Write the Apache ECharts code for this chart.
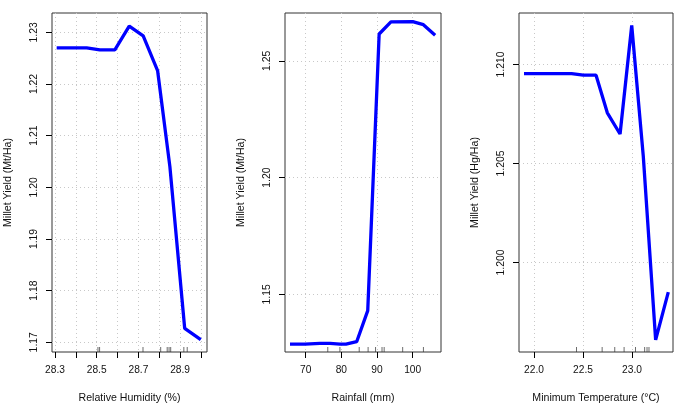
<!DOCTYPE html>
<html>
<head>
<meta charset="utf-8">
<script src="https://cdn.jsdelivr.net/npm/echarts@6/dist/echarts.min.js"></script>
<style>html,body{margin:0;padding:0;background:#fff}#c{width:689px;height:412px}</style>
</head>
<body>
<div id="c"></div>
<script>
// Panel 1: Relative Humidity
var rhX = [28.308, 28.452, 28.515, 28.587, 28.656, 28.723, 28.792, 28.851, 28.922, 28.999];
var rhY = [1.2270, 1.2270, 1.2266, 1.2266, 1.2312, 1.2293, 1.2226, 1.2040, 1.1727, 1.1705];
var rhRug = [28.506, 28.514, 28.722, 28.807, 28.838, 28.847, 28.855, 28.918, 28.934];
var rhXTicks = [28.3, 28.4, 28.5, 28.6, 28.7, 28.8, 28.9, 29.0];
var rhXLabels = [28.3, 28.5, 28.7, 28.9];
var rhYTicks = [1.17, 1.18, 1.19, 1.20, 1.21, 1.22, 1.23];

// Panel 2: Rainfall
var rfX = [65.6, 69.8, 74.0, 76.8, 79.6, 81.3, 84.3, 87.4, 90.6, 93.9, 100.0, 103.0, 106.3];
var rfY = [1.1287, 1.1287, 1.1290, 1.1290, 1.1287, 1.1287, 1.1297, 1.1430, 1.2615, 1.2667, 1.2668, 1.2655, 1.2610];
var rfRug = [76.2, 79.6, 85.0, 87.5, 89.6, 91.4, 92.0, 97.2, 103.0];
var rfXTicks = [70, 80, 90, 100];
var rfYTicks = [1.15, 1.20, 1.25];

// Panel 3: Minimum Temperature
var mtX = [21.898, 22.384, 22.503, 22.633, 22.748, 22.878, 22.997, 23.115, 23.241, 23.370];
var mtY = [1.20954, 1.20954, 1.20946, 1.20946, 1.20756, 1.20649, 1.21197, 1.20536, 1.19609, 1.19850];
var mtRug = [22.434, 22.695, 22.824, 22.919, 23.035, 23.129, 23.153, 23.173];
var mtXTicks = [22.0, 22.5, 23.0];
var mtYTicks = [1.200, 1.205, 1.210];

var panels = [
  {x: rhX, y: rhY, rug: rhRug, xt: rhXTicks, xl: rhXLabels, yt: rhYTicks, yd: 2, xd: 1,
   xmin: 28.2856, xmax: 29.029, ymin: 1.16812, ymax: 1.23374,
   xname: 'Relative Humidity (%)', yname: 'Millet Yield (Mt/Ha)', left: 52, width: 155},
  {x: rfX, y: rfY, rug: rfRug, xt: rfXTicks, xl: rfXTicks, yt: rfYTicks, yd: 2, xd: 0,
   xmin: 64.2, xmax: 107.94, ymin: 1.1253, ymax: 1.2705,
   xname: 'Rainfall (mm)', yname: 'Millet Yield (Mt/Ha)', left: 285, width: 156},
  {x: mtX, y: mtY, rug: mtRug, xt: mtXTicks, xl: mtXTicks, yt: mtYTicks, yd: 3, xd: 1,
   xmin: 21.847, xmax: 23.418, ymin: 1.19548, ymax: 1.2126,
   xname: 'Minimum Temperature (\u00B0C)', yname: 'Millet Yield (Hg/Ha)', left: 519, width: 154}
];

var font = 'Liberation Sans, Arial, Helvetica, sans-serif';
var grids = [], xAxes = [], yAxes = [], series = [];
panels.forEach(function (p, i) {
  grids.push({left: p.left, top: 13, width: p.width, height: 339, show: true,
    borderColor: '#333', borderWidth: 1, backgroundColor: 'transparent'});
  xAxes.push({type: 'value', gridIndex: i, min: p.xmin, max: p.xmax,
    name: p.xname, nameLocation: 'middle', nameGap: 41,
    nameTextStyle: {fontFamily: font, fontSize: 10.6, color: '#111'},
    axisLine: {show: false},
    axisTick: {show: true, length: 6, inside: false, customValues: p.xt, lineStyle: {color: '#000'}},
    axisLabel: {customValues: p.xl, margin: 13, fontFamily: font, fontSize: 10.2, color: '#111',
      formatter: (function (d) { return function (v) { return Number(v).toFixed(d); }; })(p.xd)},
    splitLine: {show: true, lineStyle: {color: '#c8c8c8', type: [1, 3], width: 1}}
  });
  yAxes.push({type: 'value', gridIndex: i, min: p.ymin, max: p.ymax,
    name: p.yname, nameLocation: 'middle', nameGap: 38, nameRotate: 90,
    nameTextStyle: {fontFamily: font, fontSize: 10.6, color: '#111'},
    axisLine: {show: false},
    axisTick: {show: true, length: 6, inside: false, customValues: p.yt, lineStyle: {color: '#000'}},
    axisLabel: {customValues: p.yt, margin: 13, rotate: 90, fontFamily: font, fontSize: 10.4, color: '#111',
      formatter: (function (d) { return function (v) { return Number(v).toFixed(d); }; })(p.yd)},
    splitLine: {show: true, lineStyle: {color: '#c8c8c8', type: [1, 3], width: 1}}
  });
  series.push({type: 'line', xAxisIndex: i, yAxisIndex: i, showSymbol: false, symbol: 'none',
    data: p.x.map(function (v, k) { return [v, p.y[k]]; }),
    lineStyle: {color: '#0000FF', width: 3.3}, animation: false, z: 5});
  series.push({type: 'scatter', xAxisIndex: i, yAxisIndex: i, clip: false,
    symbol: 'rect', symbolSize: [0.9, 5], symbolOffset: [0, -2.5],
    itemStyle: {color: '#333'},
    data: p.rug.map(function (v) { return [v, p.ymin]; }), animation: false, z: 4});
});

var chart = echarts.init(document.getElementById('c'), null, {renderer: 'canvas'});
chart.setOption({animation: false, grid: grids, xAxis: xAxes, yAxis: yAxes, series: series});
</script>
</body>
</html>
